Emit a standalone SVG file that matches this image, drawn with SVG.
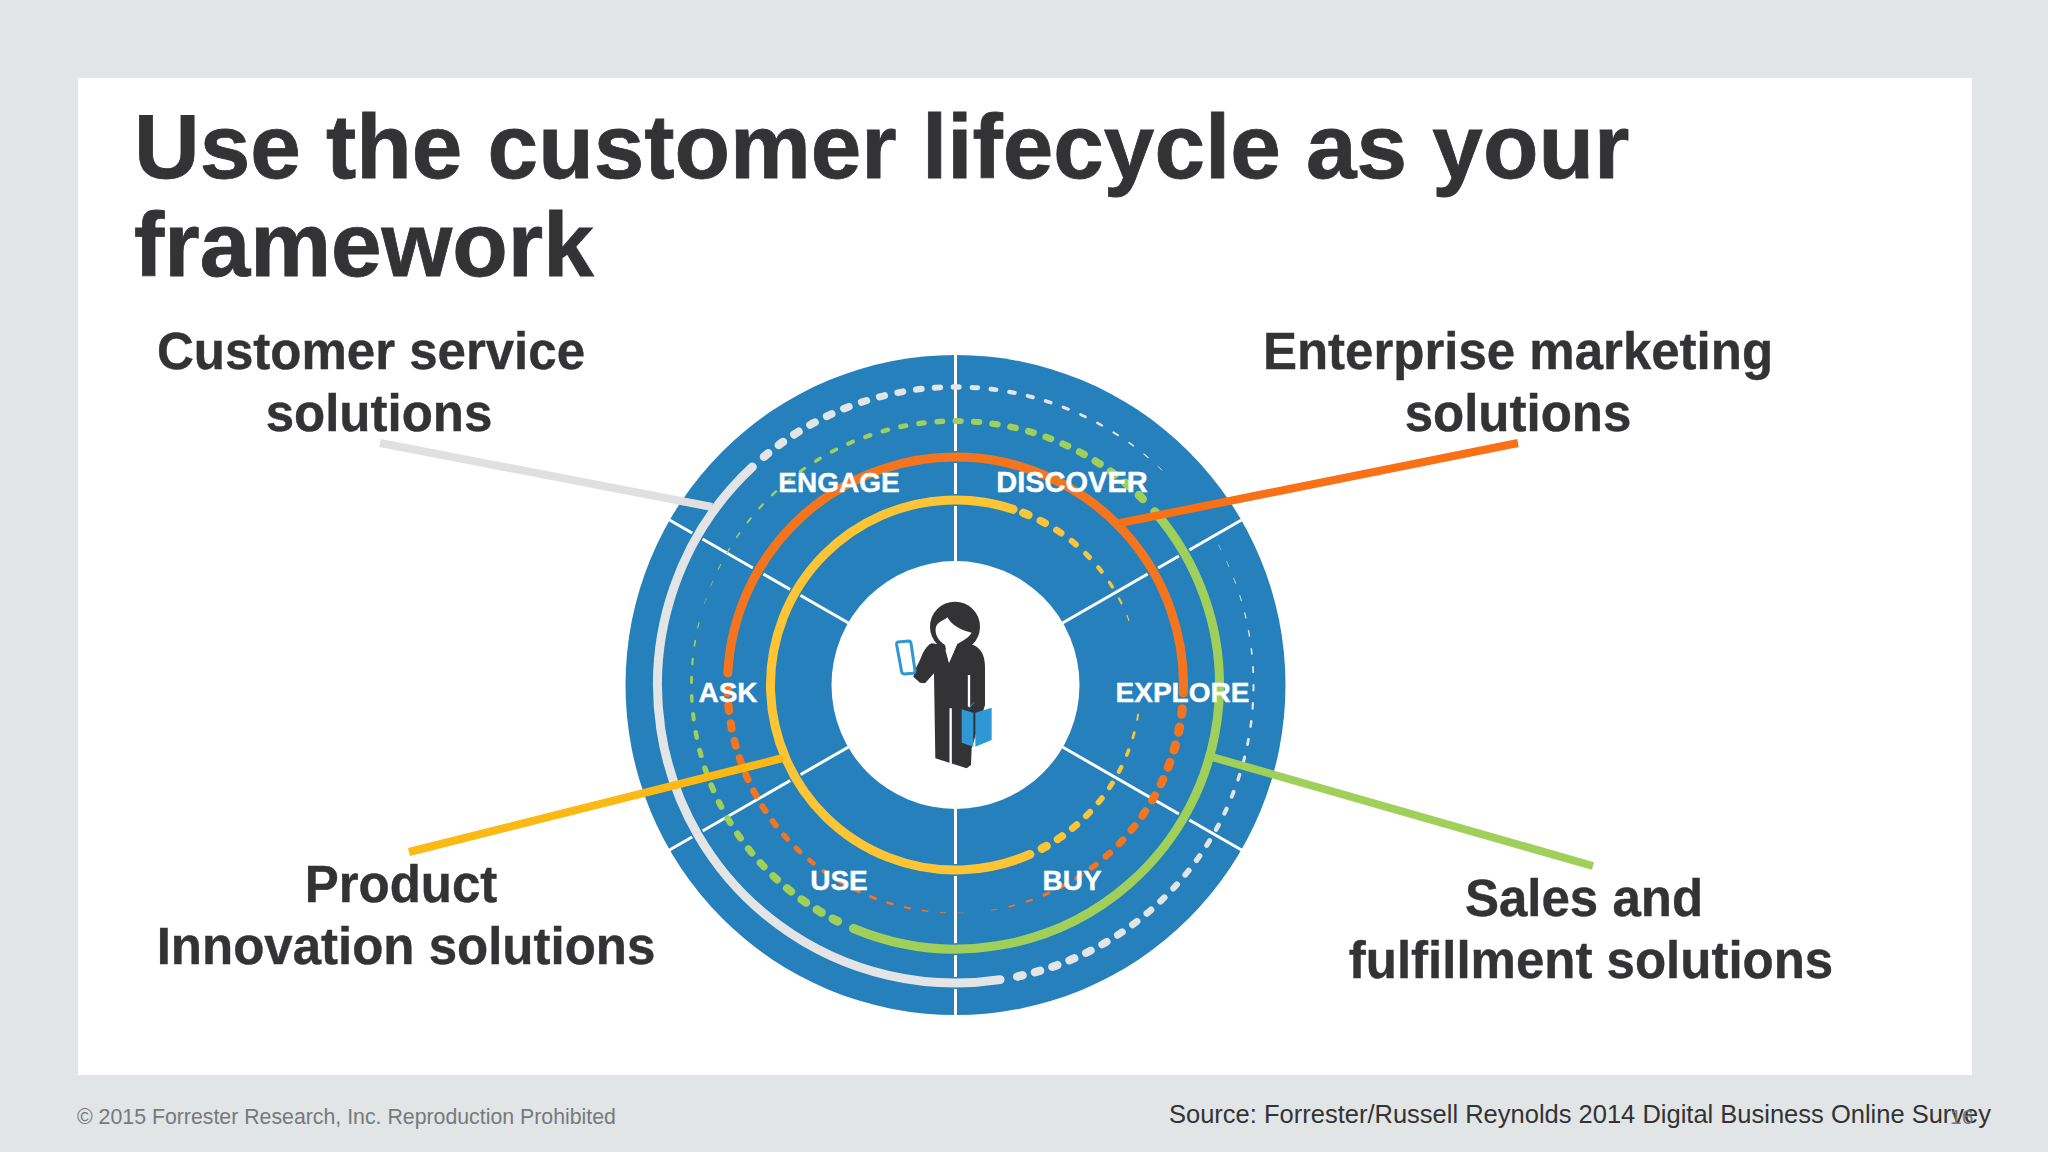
<svg xmlns="http://www.w3.org/2000/svg" xmlns:xlink="http://www.w3.org/1999/xlink" width="2048" height="1152" viewBox="0 0 2048 1152">
<style>
text{font-family:"Liberation Sans",Arial,sans-serif}
.t{font-weight:700;font-size:90.9px;fill:#333335;stroke:#333335;stroke-width:.8}
.l{font-weight:700;font-size:51px;fill:#333335;text-anchor:middle;stroke:#333335;stroke-width:.4}
.s{font-weight:700;font-size:28px;fill:#fff;text-anchor:middle;stroke:#fff;stroke-width:.4}
.sp{stroke:#fff;stroke-width:3;fill:none}
.a{fill:none;stroke-linecap:round}
.d{fill:none;stroke-linecap:round;stroke-dasharray:5.5 9999}
.W{stroke:#e3e4e6}.G{stroke:#a0d05a}.O{stroke:#f5751e}.Y{stroke:#fdc536}
</style>
<defs>
<circle id="wd" r="298" class="d W"/>
<circle id="gd" r="264" class="d G"/>
<circle id="od" r="228" class="d O"/>
<circle id="yd" r="185" class="d Y"/>
</defs>
<rect width="2048" height="1152" fill="#e1e5e6"/>
<rect x="78" y="78" width="1894" height="997" fill="#fff"/>
<text class="t" x="134" y="178">Use the customer lifecycle as your</text>
<text class="t" x="134" y="276">framework</text>
<g id="disc" transform="translate(955.5 685)">
<circle r="330" fill="#2580bb"/>
<g>
<line class="sp" x1="0" y1="-124" x2="0" y2="-330"/>
<line class="sp" x1="0" y1="124" x2="0" y2="330"/>
<line class="sp" x1="107" y1="-62" x2="286" y2="-165"/>
<line class="sp" x1="107" y1="62" x2="286" y2="165"/>
<line class="sp" x1="-107" y1="-62" x2="-286" y2="-165"/>
<line class="sp" x1="-107" y1="62" x2="-286" y2="165"/>
</g>
<circle r="124" fill="#fff"/>
<g id="halo" fill="none" stroke="#2580bb" stroke-width="12">
<circle r="228" stroke-dasharray="712 9999" transform="rotate(183)"/>
<circle r="185" stroke-dasharray="716 9999" transform="rotate(66.3)"/>
<circle r="264" stroke-dasharray="708 9999" transform="rotate(-41)"/>
<circle r="298" stroke-dasharray="757 9999" transform="rotate(81.4)"/>
</g>
<g id="white-ring">
<circle class="a W" r="298" stroke-width="9" stroke-dasharray="757 9999" transform="rotate(81.4)"/>
<use href="#wd" stroke-width="8.5" transform="rotate(230)"/><use href="#wd" stroke-width="8.3" transform="rotate(233.6)"/><use href="#wd" stroke-width="8.1" transform="rotate(237.2)"/><use href="#wd" stroke-width="7.9" transform="rotate(240.8)"/><use href="#wd" stroke-width="7.7" transform="rotate(244.4)"/><use href="#wd" stroke-width="7.5" transform="rotate(248)"/><use href="#wd" stroke-width="7.2" transform="rotate(251.6)"/><use href="#wd" stroke-width="6.9" transform="rotate(255.2)"/><use href="#wd" stroke-width="6.6" transform="rotate(258.8)"/><use href="#wd" stroke-width="6.3" transform="rotate(262.4)"/><use href="#wd" stroke-width="5.9" transform="rotate(266)"/><use href="#wd" stroke-width="5.5" transform="rotate(269.6)"/><use href="#wd" stroke-width="5" transform="rotate(273.2)"/><use href="#wd" stroke-width="4.6" transform="rotate(276.8)"/><use href="#wd" stroke-width="4.3" transform="rotate(280.4)"/><use href="#wd" stroke-width="4" transform="rotate(284)"/><use href="#wd" stroke-width="3.6" transform="rotate(287.6)"/><use href="#wd" stroke-width="3.2" transform="rotate(291.2)"/><use href="#wd" stroke-width="2.8" transform="rotate(294.8)"/><use href="#wd" stroke-width="2.4" transform="rotate(298.4)"/><use href="#wd" stroke-width="2" transform="rotate(302)"/><use href="#wd" stroke-width="1.6" transform="rotate(305.6)"/><use href="#wd" stroke-width="1.2" transform="rotate(309.2)"/><use href="#wd" stroke-width=".8" transform="rotate(312.8)"/>
<use href="#wd" stroke-width="8.5" transform="rotate(77)"/><use href="#wd" stroke-width="8.4" transform="rotate(73.5)"/><use href="#wd" stroke-width="8.3" transform="rotate(70)"/><use href="#wd" stroke-width="8.1" transform="rotate(66.5)"/><use href="#wd" stroke-width="7.9" transform="rotate(63)"/><use href="#wd" stroke-width="7.6" transform="rotate(59.5)"/><use href="#wd" stroke-width="7.3" transform="rotate(56)"/><use href="#wd" stroke-width="7" transform="rotate(52.5)"/><use href="#wd" stroke-width="6.7" transform="rotate(49)"/><use href="#wd" stroke-width="6.4" transform="rotate(45.5)"/><use href="#wd" stroke-width="6.1" transform="rotate(42)"/><use href="#wd" stroke-width="5.8" transform="rotate(38.5)"/><use href="#wd" stroke-width="5.4" transform="rotate(35)"/><use href="#wd" stroke-width="5" transform="rotate(31.5)"/><use href="#wd" stroke-width="4.6" transform="rotate(28)"/><use href="#wd" stroke-width="4.2" transform="rotate(24.5)"/><use href="#wd" stroke-width="3.8" transform="rotate(21)"/><use href="#wd" stroke-width="3.4" transform="rotate(17.5)"/><use href="#wd" stroke-width="3.1" transform="rotate(14)"/><use href="#wd" stroke-width="2.8" transform="rotate(10.5)"/><use href="#wd" stroke-width="2.5" transform="rotate(7)"/><use href="#wd" stroke-width="2.2" transform="rotate(3.5)"/><use href="#wd" stroke-width="2" transform="rotate(0)"/><use href="#wd" stroke-width="1.8" transform="rotate(-3.5)"/><use href="#wd" stroke-width="1.6" transform="rotate(-7)"/><use href="#wd" stroke-width="1.4" transform="rotate(-10.5)"/><use href="#wd" stroke-width="1.2" transform="rotate(-14)"/><use href="#wd" stroke-width="1" transform="rotate(-17.5)"/><use href="#wd" stroke-width=".8" transform="rotate(-21)"/><use href="#wd" stroke-width=".6" transform="rotate(-24.5)"/><use href="#wd" stroke-width=".5" transform="rotate(-28)"/>
</g>
<g id="green-ring">
<circle class="a G" r="264" stroke-width="9" stroke-dasharray="708 9999" transform="rotate(-41)"/>
<use href="#gd" stroke-width="8.5" transform="rotate(-46)"/><use href="#gd" stroke-width="8.2" transform="rotate(-50)"/><use href="#gd" stroke-width="7.9" transform="rotate(-54)"/><use href="#gd" stroke-width="7.6" transform="rotate(-58)"/><use href="#gd" stroke-width="7.3" transform="rotate(-62)"/><use href="#gd" stroke-width="7" transform="rotate(-66)"/><use href="#gd" stroke-width="6.8" transform="rotate(-70)"/><use href="#gd" stroke-width="6.6" transform="rotate(-74)"/><use href="#gd" stroke-width="6.4" transform="rotate(-78)"/><use href="#gd" stroke-width="6.2" transform="rotate(-82)"/><use href="#gd" stroke-width="6" transform="rotate(-86)"/><use href="#gd" stroke-width="5.8" transform="rotate(-90)"/><use href="#gd" stroke-width="5.5" transform="rotate(-94)"/><use href="#gd" stroke-width="5.2" transform="rotate(-98)"/><use href="#gd" stroke-width="4.9" transform="rotate(-102)"/><use href="#gd" stroke-width="4.6" transform="rotate(-106)"/><use href="#gd" stroke-width="4.3" transform="rotate(-110)"/><use href="#gd" stroke-width="4" transform="rotate(-114)"/><use href="#gd" stroke-width="3.7" transform="rotate(-118)"/><use href="#gd" stroke-width="3.4" transform="rotate(-122)"/><use href="#gd" stroke-width="3.1" transform="rotate(-126)"/><use href="#gd" stroke-width="2.8" transform="rotate(-130)"/><use href="#gd" stroke-width="2.5" transform="rotate(-134)"/><use href="#gd" stroke-width="2.2" transform="rotate(-138)"/><use href="#gd" stroke-width="1.9" transform="rotate(-142)"/><use href="#gd" stroke-width="1.6" transform="rotate(-146)"/><use href="#gd" stroke-width="1.3" transform="rotate(-150)"/><use href="#gd" stroke-width="1" transform="rotate(-154)"/><use href="#gd" stroke-width=".7" transform="rotate(-158)"/><use href="#gd" stroke-width=".5" transform="rotate(-162)"/>
<use href="#gd" stroke-width="8.8" transform="rotate(116.5)"/><use href="#gd" stroke-width="8.6" transform="rotate(120.5)"/><use href="#gd" stroke-width="8.4" transform="rotate(124.5)"/><use href="#gd" stroke-width="8" transform="rotate(128.5)"/><use href="#gd" stroke-width="7.6" transform="rotate(132.5)"/><use href="#gd" stroke-width="7.3" transform="rotate(136.5)"/><use href="#gd" stroke-width="7" transform="rotate(140.5)"/><use href="#gd" stroke-width="6.7" transform="rotate(144.5)"/><use href="#gd" stroke-width="6.4" transform="rotate(148.5)"/><use href="#gd" stroke-width="6.1" transform="rotate(152.5)"/><use href="#gd" stroke-width="5.8" transform="rotate(156.5)"/><use href="#gd" stroke-width="5.4" transform="rotate(160.5)"/><use href="#gd" stroke-width="5" transform="rotate(164.5)"/><use href="#gd" stroke-width="4.5" transform="rotate(168.5)"/><use href="#gd" stroke-width="4" transform="rotate(172.5)"/><use href="#gd" stroke-width="3.4" transform="rotate(176.5)"/><use href="#gd" stroke-width="2.8" transform="rotate(180.5)"/><use href="#gd" stroke-width="2.2" transform="rotate(184.5)"/><use href="#gd" stroke-width="1.7" transform="rotate(188.5)"/><use href="#gd" stroke-width="1.2" transform="rotate(192.5)"/>
</g>
<g id="orange-ring">
<circle class="a O" r="228" stroke-width="9" stroke-dasharray="712 9999" transform="rotate(183)"/>
<use href="#od" stroke-width="8.5" transform="rotate(178)"/><use href="#od" stroke-width="8.2" transform="rotate(173.5)"/><use href="#od" stroke-width="7.9" transform="rotate(169)"/><use href="#od" stroke-width="7.6" transform="rotate(164.5)"/><use href="#od" stroke-width="7.3" transform="rotate(160)"/><use href="#od" stroke-width="7" transform="rotate(155.5)"/><use href="#od" stroke-width="6.6" transform="rotate(151)"/><use href="#od" stroke-width="6.2" transform="rotate(146.5)"/><use href="#od" stroke-width="5.8" transform="rotate(142)"/><use href="#od" stroke-width="5.4" transform="rotate(137.5)"/><use href="#od" stroke-width="5" transform="rotate(133)"/><use href="#od" stroke-width="4.6" transform="rotate(128.5)"/><use href="#od" stroke-width="4.2" transform="rotate(124)"/><use href="#od" stroke-width="3.8" transform="rotate(119.5)"/><use href="#od" stroke-width="3.4" transform="rotate(115)"/><use href="#od" stroke-width="3" transform="rotate(110.5)"/><use href="#od" stroke-width="2.5" transform="rotate(106)"/><use href="#od" stroke-width="2" transform="rotate(101.5)"/><use href="#od" stroke-width="1.5" transform="rotate(97)"/><use href="#od" stroke-width="1" transform="rotate(92.5)"/><use href="#od" stroke-width=".6" transform="rotate(88)"/>
<use href="#od" stroke-width="9" transform="rotate(6)"/><use href="#od" stroke-width="9" transform="rotate(10.6)"/><use href="#od" stroke-width="9" transform="rotate(15.2)"/><use href="#od" stroke-width="8.7" transform="rotate(19.8)"/><use href="#od" stroke-width="8.4" transform="rotate(24.4)"/><use href="#od" stroke-width="8.1" transform="rotate(29)"/><use href="#od" stroke-width="7.8" transform="rotate(33.6)"/><use href="#od" stroke-width="7.5" transform="rotate(38.2)"/><use href="#od" stroke-width="7" transform="rotate(42.8)"/><use href="#od" stroke-width="6.5" transform="rotate(47.4)"/><use href="#od" stroke-width="5.5" transform="rotate(52)"/><use href="#od" stroke-width="4.5" transform="rotate(56.6)"/><use href="#od" stroke-width="3.5" transform="rotate(61.2)"/><use href="#od" stroke-width="3" transform="rotate(65.8)"/><use href="#od" stroke-width="2.2" transform="rotate(70.4)"/><use href="#od" stroke-width="1.6" transform="rotate(75)"/><use href="#od" stroke-width="1" transform="rotate(79.6)"/>
</g>
<g id="yellow-ring">
<circle class="a Y" r="185" stroke-width="9" stroke-dasharray="716 9999" transform="rotate(66.3)"/>
<use href="#yd" stroke-width="8.5" transform="rotate(-68.5)"/><use href="#yd" stroke-width="7.6" transform="rotate(-62.7)"/><use href="#yd" stroke-width="6.8" transform="rotate(-56.9)"/><use href="#yd" stroke-width="6" transform="rotate(-51.1)"/><use href="#yd" stroke-width="5.2" transform="rotate(-45.3)"/><use href="#yd" stroke-width="4.4" transform="rotate(-39.5)"/><use href="#yd" stroke-width="3.4" transform="rotate(-33.7)"/><use href="#yd" stroke-width="2.2" transform="rotate(-27.9)"/><use href="#yd" stroke-width="1.2" transform="rotate(-22.1)"/>
<use href="#yd" stroke-width="8.5" transform="rotate(60.5)"/><use href="#yd" stroke-width="7.8" transform="rotate(54.8)"/><use href="#yd" stroke-width="7.1" transform="rotate(49.1)"/><use href="#yd" stroke-width="6.4" transform="rotate(43.4)"/><use href="#yd" stroke-width="5.7" transform="rotate(37.7)"/><use href="#yd" stroke-width="5" transform="rotate(32)"/><use href="#yd" stroke-width="4.3" transform="rotate(26.3)"/><use href="#yd" stroke-width="3.5" transform="rotate(20.6)"/><use href="#yd" stroke-width="2.7" transform="rotate(14.9)"/><use href="#yd" stroke-width="1.9" transform="rotate(9.2)"/><use href="#yd" stroke-width="1" transform="rotate(3.5)"/>
</g>
</g>
<g id="connectors">
<line x1="380" y1="443" x2="712" y2="507" stroke="#e0e0e2" stroke-width="8"/>
<line x1="1518" y1="443" x2="1120" y2="523" stroke="#fa7014" stroke-width="8"/>
<line x1="1593" y1="866" x2="1212" y2="757" stroke="#a0d05a" stroke-width="8"/>
<line x1="409" y1="852" x2="783" y2="758" stroke="#fdb913" stroke-width="8"/>
</g>
<g id="stages">
<text class="s" x="839" y="492">ENGAGE</text>
<text class="s" x="1072" y="492" style="font-size:29px">DISCOVER</text>
<text class="s" x="1182.5" y="702">EXPLORE</text>
<text class="s" x="728" y="702">ASK</text>
<text class="s" x="839" y="890">USE</text>
<text class="s" x="1072" y="890">BUY</text>
</g>
<g id="person" transform="translate(870 580) scale(.3333)">
<path fill="#333335" d="M185 190C168 197 158 220 150 240L136 268L130 290L150 308L165 310L192 280L196 535L290 565L303 555L305 505L345 375L345 260C345 230 335 205 310 195L262 192L237 248L222 195Z"/>
<circle cx="255" cy="140" r="75" fill="#333335"/>
<path fill="#fff" d="M197 145C200 125 222 122 232 112C245 135 270 150 305 158C295 175 280 180 262 192L237 248L225 195C205 182 195 165 197 145Z"/>
<path stroke="#fff" stroke-width="7" fill="none" d="M297 285V380M242 385V552"/>
<path fill="#2f97d3" d="M275 388L310 398L310 500L275 488ZM316 398L365 383V480L316 500Z"/>
<path stroke="#2f97d3" stroke-width="3" fill="none" d="M297 385L312 367"/>
<path fill="#fff" stroke="#2f97d3" stroke-width="9" d="M84 186L116 183Q122 183 123 190L135 272Q135 279 128 280L104 282Q97 282 95 276L80 194Q79 187 84 186Z"/>
</g>
<g id="labels">
<text class="l" x="371" y="369">Customer service</text>
<text class="l" x="379" y="431">solutions</text>
<text class="l" x="1518" y="369">Enterprise marketing</text>
<text class="l" x="1518" y="431">solutions</text>
<text class="l" x="401" y="902">Product</text>
<text class="l" x="406" y="964">Innovation solutions</text>
<text class="l" x="1584" y="916">Sales and</text>
<text class="l" x="1591" y="978">fulfillment solutions</text>
</g>
<text x="77" y="1124" font-size="21.3" fill="#77797b">© 2015 Forrester Research, Inc. Reproduction Prohibited</text>
<text x="1169" y="1123" font-size="25.5" fill="#333335">Source: Forrester/Russell Reynolds 2014 Digital Business Online Survey</text>
<text x="1950" y="1124" font-size="21" fill="#77797b">16</text>
</svg>
